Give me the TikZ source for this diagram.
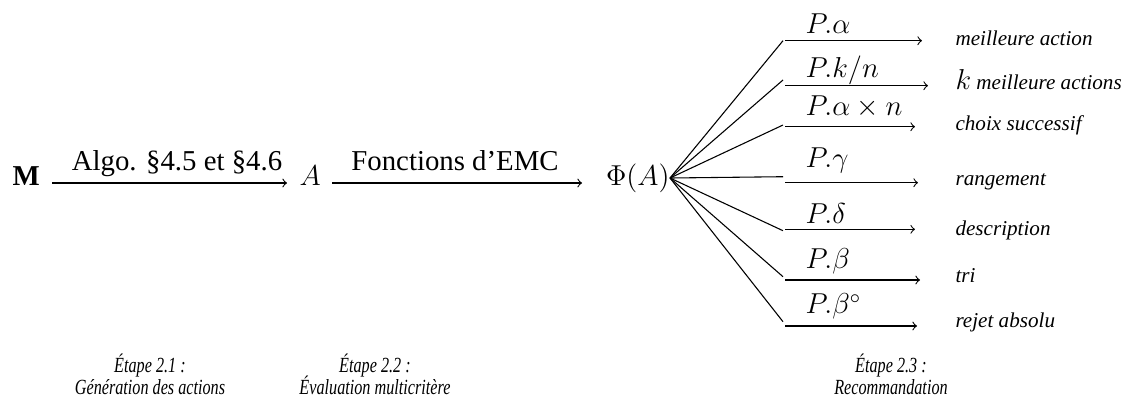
\documentclass[tikz,border=0pt]{standalone}
\usepackage{fontspec}
\setmainfont{Liberation Serif}[ItalicFont={Liberation Serif Italic},BoldFont={Liberation Serif Bold}]
\newfontfamily\capfont{Liberation Serif Italic}[FakeStretch=0.75]
\begin{document}
\begin{tikzpicture}[x=0.416667pt,y=-0.416667pt,line width=0.45pt,>=to,
  txt/.style={inner sep=0pt,font=\fontsize{12}{14}\selectfont},
  res/.style={inner sep=0pt,anchor=base west,font=\fontsize{8.8}{10}\selectfont\itshape},
  captxt/.style={inner sep=0pt,anchor=base,font=\fontsize{9}{8}\capfont},
  arr/.style={->}]
\useasboundingbox (0,0) rectangle (1128,400);

% main chain
\node[txt,anchor=base west] (M) at (12,185) {\textbf{M}};
\node[txt,anchor=base west] (A) at (299,185) {$A$};
\node[txt,anchor=base east] (phi) at (670,185) {$\Phi(A)$};
\coordinate (m1s) at (52,183);
\coordinate (m1e) at (287,183);
\coordinate (m2s) at (332,183);
\coordinate (m2e) at (582,183);
\draw[arr] (m1s) -- (m1e);
\draw[arr] (m2s) -- (m2e);
\node[txt,anchor=base] (l1) at (177,170.5) {Algo. §4.5 et §4.6};
\node[txt,anchor=base] (l2) at (455,170.5) {Fonctions d’EMC};

% fan
\coordinate (hub) at (670,178);
\foreach \i/\fy/\ay/\ex in {1/40.7/40.7/922, 2/80/85.7/928, 3/125/126.7/915, 4/176.7/182.7/918, 5/230.7/229.3/915, 6/276.7/280/920, 7/321.7/326/917}{
  \coordinate (f\i) at (783,\fy);
  \coordinate (s\i) at (785,\ay);
  \coordinate (e\i) at (\ex,\ay);
  \draw (hub) -- (f\i);
  \draw[arr] (s\i) -- (e\i);
}
\node[txt,anchor=base west] (p1) at (805,33.5) {$P.\alpha$};
\node[txt,anchor=base west] (p2) at (805,77) {$P.k/n$};
\node[txt,anchor=base west] (p3) at (805,115) {$P.\alpha\times n$};
\node[txt,anchor=base west] (p4) at (805,167) {$P.\gamma$};
\node[txt,anchor=base west] (p5) at (805,223) {$P.\delta$};
\node[txt,anchor=base west] (p6) at (805,268) {$P.\beta$};
\node[txt,anchor=base west] (p7) at (805,313.5) {$P.\beta^\circ$};

\node[res] (r1) at (955,45) {meilleure action};
\node[res] (r2) at (955,89) {{\fontsize{12}{14}\selectfont$k$} meilleure actions};
\node[res] (r3) at (955,130) {choix successif};
\node[res] (r4) at (955,185) {rangement};
\node[res] (r5) at (955,235) {description};
\node[res] (r6) at (955,282) {tri};
\node[res] (r7) at (955,327) {rejet absolu};

% captions
\node[captxt] (c1a) at (150,372) {Étape 2.1 :};
\node[captxt] (c1b) at (150,394) {Génération des actions};
\node[captxt] (c2a) at (375,372) {Étape 2.2 :};
\node[captxt] (c2b) at (375,394) {Évaluation multicritère};
\node[captxt] (c3a) at (891,372) {Étape 2.3 :};
\node[captxt] (c3b) at (891,394) {Recommandation};
\end{tikzpicture}
\end{document}
